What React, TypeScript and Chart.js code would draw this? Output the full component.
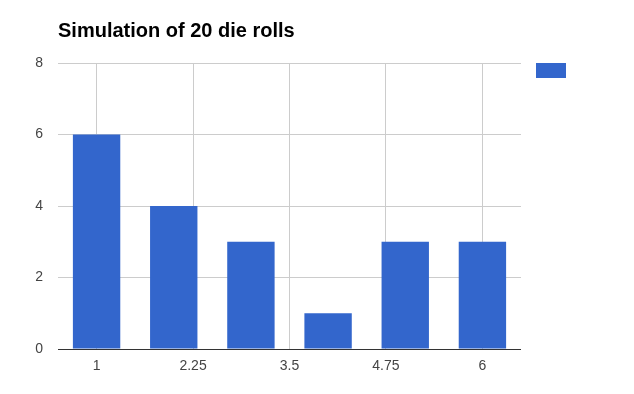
import React, { useEffect, useRef } from 'react';
import { Chart, registerables } from 'chart.js';

Chart.register(...registerables);

const TITLE = 'Simulation of 20 die rolls';
const faces = [1, 2, 3, 4, 5, 6];
const counts = [6, 4, 3, 1, 3, 3];
const xTickValues = [1, 2.25, 3.5, 4.75, 6];
const xTickLabels = ['1', '2.25', '3.5', '4.75', '6'];
const yTickValues = [0, 2, 4, 6, 8];
const BAR_COLOR = '#3366cc';
const FONT = '"Liberation Sans", Arial, Helvetica, sans-serif';

export default function App() {
  const ref = useRef<HTMLCanvasElement>(null);

  useEffect(() => {
    if (!ref.current) return;
    const legendSwatch = {
      id: 'legendSwatch',
      afterDraw(chart: any) {
        const { ctx, chartArea } = chart;
        ctx.save();
        ctx.fillStyle = BAR_COLOR;
        ctx.fillRect(chartArea.right + 15, chartArea.top, 30, 15);
        ctx.restore();
      },
    };
    const chart = new Chart(ref.current, {
      type: 'bar',
      data: {
        datasets: [
          {
            label: '',
            data: faces.map((f, i) => ({ x: f, y: counts[i] })),
            backgroundColor: BAR_COLOR,
            borderWidth: 0,
            barPercentage: 0.614,
            categoryPercentage: 1,
          },
        ],
      },
      options: {
        responsive: false,
        animation: false,
        layout: { padding: { top: 0, right: 105, bottom: 0, left: 0 } },
        plugins: {
          legend: { display: false },
          tooltip: { enabled: false },
          title: {
            display: true,
            text: TITLE,
            align: 'start',
            fullSize: false,
            color: '#000',
            font: { family: FONT, size: 20, weight: 'bold' },
            padding: { top: 11, bottom: 20 },
          },
        },
        scales: {
          x: {
            type: 'linear',
            min: 0.5,
            max: 6.5,
            offset: false,
            afterBuildTicks: (s: any) => {
              s.ticks = xTickValues.map((v) => ({ value: v }));
            },
            ticks: {
              callback: (v: any) => {
                const i = xTickValues.indexOf(Number(v));
                return i >= 0 ? xTickLabels[i] : '';
              },
              padding: 9,
              color: '#444',
              font: { family: FONT, size: 14 },
              maxRotation: 0,
              autoSkip: false,
            },
            grid: { color: '#cccccc', drawTicks: false, offset: false },
            border: { display: false },
            afterFit: (s: any) => {
              s.height = 37;
            },
          },
          y: {
            min: 0,
            max: 8,
            afterBuildTicks: (s: any) => {
              s.ticks = yTickValues.map((v) => ({ value: v }));
            },
            ticks: {
              padding: 15,
              color: '#444',
              font: { family: FONT, size: 14 },
            },
            grid: {
              color: (c: any) => (c.tick && c.tick.value === 0 ? '#333333' : '#cccccc'),
              drawTicks: false,
            },
            border: { display: false },
            afterFit: (s: any) => {
              s.width = 50;
            },
          },
        },
      },
      plugins: [legendSwatch],
    } as any);
    return () => chart.destroy();
  }, []);

  return (
    <div style={{ width: 618, height: 378 }}>
      <canvas ref={ref} width={618} height={378} style={{ display: 'block' }} />
    </div>
  );
}
